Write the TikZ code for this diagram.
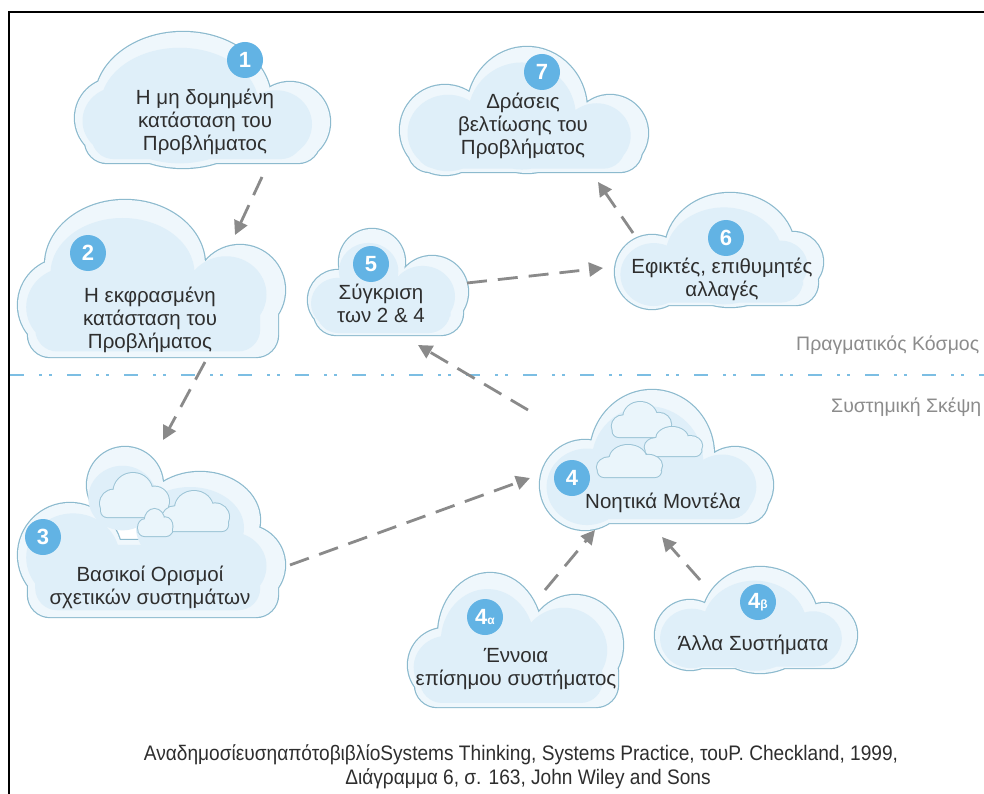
\documentclass[tikz,border=0pt]{standalone}
\usepackage{fontspec}
\setmainfont{Liberation Sans}
\newfontfamily\capfont[FakeStretch=0.91]{Liberation Sans}
\usetikzlibrary{arrows.meta}
\definecolor{cloudline}{HTML}{8CBACE}
\definecolor{cloudlight}{HTML}{EFF7FC}
\definecolor{cloudmid}{HTML}{DFEFF9}
\definecolor{miniline}{HTML}{9CC4D6}
\definecolor{minifill}{HTML}{EAF5FB}
\definecolor{badgeblue}{HTML}{62B3E4}
\definecolor{arrgray}{HTML}{8A8A8A}
\definecolor{sepblue}{HTML}{7CBEE3}
\definecolor{txtgray}{HTML}{2E2E2E}
\definecolor{sidegray}{HTML}{8C8C8C}

\newcommand\mycloud[3]{%
  \path[draw=cloudline,line width=2.4pt,rounded corners=22pt] #1;
  \path[fill=cloudlight,rounded corners=22pt] #1;
  \begin{scope}[shift={(#2-5,#3+6)},xscale=0.9,yscale=0.85,shift={(-#2,-#3)}]
    \path[fill=cloudmid,rounded corners=22pt] #1;
  \end{scope}}

\newcommand\minicloud[4]{%
  \begin{scope}[shift={(#1,#2)},xscale=#3/70,yscale=#4/42]
    \path[draw=miniline,line width=2pt,rounded corners=6pt] (15,-13) circle[radius=13] (34,-24) ellipse[x radius=19,y radius=18] (55,-15) circle[radius=14] (68,-14) rectangle (3,0);
    \path[fill=minifill,rounded corners=6pt] (15,-13) circle[radius=13] (34,-24) ellipse[x radius=19,y radius=18] (55,-15) circle[radius=14] (68,-14) rectangle (3,0);
  \end{scope}}

\tikzset{
 lbl/.style={font=\fontsize{20.5}{23}\selectfont, text=txtgray, align=center, inner sep=0pt},
 badge/.style={circle, fill=badgeblue, text=white, minimum size=36pt, inner sep=0pt, font=\bfseries\fontsize{22}{22}\selectfont},
 arr/.style={draw=arrgray, line width=2.8pt, dash pattern=on 20pt off 11pt, -{Triangle[length=14pt,width=14pt]}},
 sepline/.style={draw=sepblue, line width=2.6pt, dash pattern=on 14pt off 15pt on 3pt off 7pt on 3pt off 15pt},
 sidetext/.style={font=\fontsize{19.5}{24}\selectfont, text=sidegray, inner sep=0pt},
 captext/.style={font=\capfont\fontsize{21}{24}\selectfont, text=txtgray, inner sep=0pt},
 frameline/.style={draw=black, line width=2.6pt}
}

\begin{document}
\begin{tikzpicture}[x=1pt,y=-1pt]
\useasboundingbox (0,0) rectangle (984,794);
\clip (0,0) rectangle (984,794);
\fill[white] (0,0) rectangle (984,794);

% frame
\coordinate (frTR) at (990,12);
\coordinate (frTL) at (9,12);
\coordinate (frBL) at (9,800);
\draw[frameline] (frTR) -- (frTL) -- (frBL);

% separator
\coordinate (sepL) at (10,375);
\coordinate (sepR) at (990,375);
\draw[sepline] (sepL) -- (sepR);
\node[sidetext,anchor=west] (pk) at (796,345) {Πραγματικός Κόσμος};
\node[sidetext,anchor=west] (ss) at (831,407) {Συστημική Σκέψη};

% clouds
\mycloud{(183,100) ellipse[x radius=88,y radius=68] (115,118) circle[radius=40] (290,122) circle[radius=40] (320,110) rectangle (85,163)}{200}{97}
\mycloud{(125,265) ellipse[x radius=80,y radius=65] (240,290) circle[radius=45] (65,305) circle[radius=47] (278,290) rectangle (28,357)}{150}{280}
\mycloud{(125,485) circle[radius=38] (200,520) ellipse[x radius=60,y radius=48] (245,565) circle[radius=40] (70,555) circle[radius=52] (278,540) rectangle (28,617)}{150}{532}
\mycloud{(652,455) ellipse[x radius=62,y radius=65] (735,485) circle[radius=38] (585,485) circle[radius=45] (768,470) rectangle (548,523)}{656}{457}
\mycloud{(490,635) ellipse[x radius=52,y radius=62] (575,645) ellipse[x radius=48,y radius=50] (445,665) circle[radius=37] (618,650) rectangle (415,707)}{515}{640}
\mycloud{(760,620) ellipse[x radius=58,y radius=53] (690,635) circle[radius=35] (825,635) circle[radius=32] (852,620) rectangle (660,668)}{756}{618}
\mycloud{(372,262) circle[radius=33] (432,292) circle[radius=36] (338,300) circle[radius=30] (463,290) rectangle (314,335)}{388}{282}
\mycloud{(730,250) ellipse[x radius=65,y radius=57] (652,272) circle[radius=37] (793,262) circle[radius=30] (818,260) rectangle (620,305)}{719}{249}
\mycloud{(527,110) ellipse[x radius=60,y radius=63] (445,130) circle[radius=45] (610,133) circle[radius=38] (642,120) rectangle (408,172)}{525}{110}

% mini clouds
\minicloud{98}{517}{72}{44}
\minicloud{160}{531}{70}{40}
\minicloud{137}{536}{36}{27}
\minicloud{610}{437}{62}{35}
\minicloud{643}{456}{60}{29}
\minicloud{595}{477}{68}{32}

% badges
\node[badge] (b1) at (245,60) {1};
\node[badge] (b2) at (88,253) {2};
\node[badge] (b3) at (43,537) {3};
\node[badge] (b4) at (572,478) {4};
\node[badge] (b4a) at (485,617) {4{\fontsize{12}{12}\selectfont α}};
\node[badge] (b4b) at (758,602) {4{\fontsize{12}{12}\selectfont β}};
\node[badge] (b5) at (371,264) {5};
\node[badge] (b6) at (726,238) {6};
\node[badge] (b7) at (542,72) {7};

% labels
\node[lbl] (t1) at (205,122) {Η μη δομημένη\\κατάσταση του\\Προβλήματος};
\node[lbl] (t2) at (150,320) {Η εκφρασμένη\\κατάσταση του\\Προβλήματος};
\node[lbl] (t3) at (150,587) {Βασικοί Ορισμοί\\σχετικών συστημάτων};
\node[lbl] (t4) at (663,503) {Νοητικά Μοντέλα};
\node[lbl] (t4a) at (516,669) {Έννοια\\επίσημου συστήματος};
\node[lbl] (t4b) at (753,645) {Άλλα Συστήματα};
\node[lbl] (t5) at (381,303) {Σύγκριση\\των 2 \& 4};
\node[lbl] (t6) at (722,279) {Εφικτές, επιθυμητές\\αλλαγές};
\node[lbl] (t7) at (523,126) {Δράσεις\\βελτίωσης του\\Προβλήματος};

% arrows
\coordinate (a12s) at (262,177); \coordinate (a12e) at (235,235);
\coordinate (a23s) at (205,362); \coordinate (a23e) at (163,440);
\coordinate (a34s) at (290,565); \coordinate (a34e) at (530,478);
\coordinate (a45s) at (528,410); \coordinate (a45e) at (418,345);
\coordinate (a56s) at (467,283); \coordinate (a56e) at (603,268);
\coordinate (a67s) at (633,233); \coordinate (a67e) at (598,182);
\coordinate (a4as) at (545,590); \coordinate (a4ae) at (595,530);
\coordinate (a4bs) at (700,580); \coordinate (a4be) at (662,537);
\draw[arr] (a12s) -- (a12e);
\draw[arr] (a23s) -- (a23e);
\draw[arr] (a34s) -- (a34e);
\draw[arr] (a45s) -- (a45e);
\draw[arr] (a56s) -- (a56e);
\draw[arr] (a67s) -- (a67e);
\draw[arr] (a4as) -- (a4ae);
\draw[arr] (a4bs) -- (a4be);

% caption
\node[captext] (cap1) at (521,755) {ΑναδημοσίευσηαπότοβιβλίοSystems Thinking, Systems Practice, τουP. Checkland, 1999,};
\node[captext] (cap2) at (528,779) {Διάγραμμα 6, σ. 163, John Wiley and Sons};
\end{tikzpicture}
\end{document}
